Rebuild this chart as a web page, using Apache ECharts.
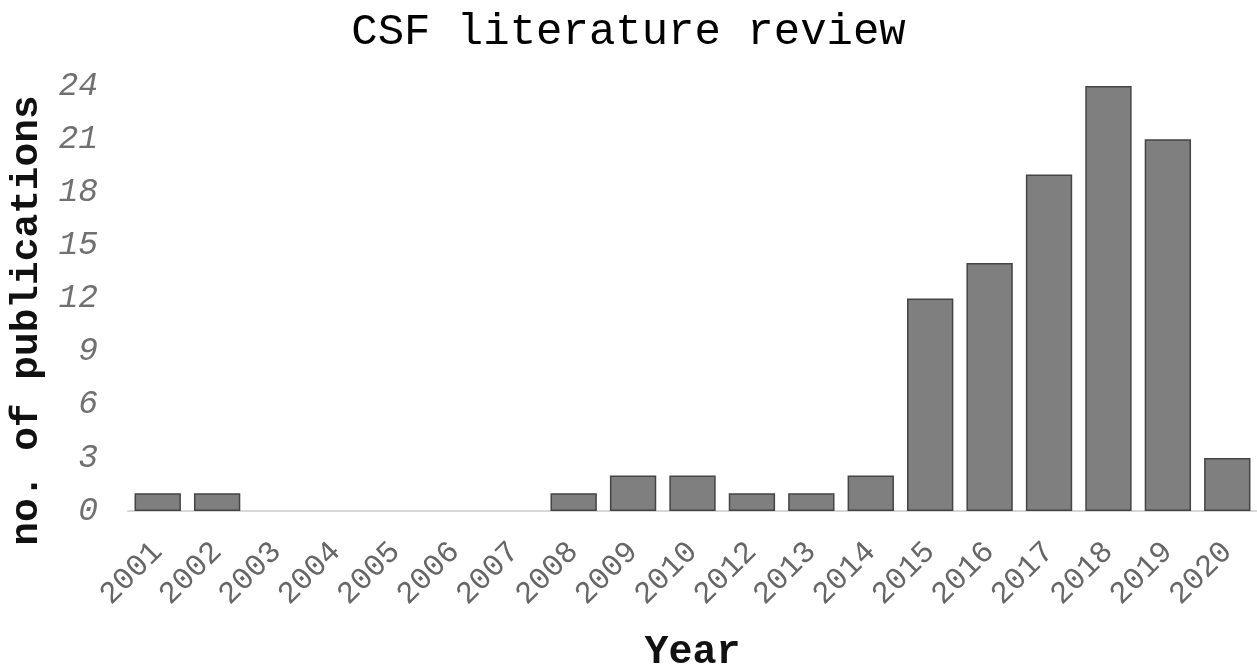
<!DOCTYPE html>
<html>
<head>
<meta charset="utf-8">
<script src="https://cdn.jsdelivr.net/npm/echarts@6/dist/echarts.min.js"></script>
<style>
html,body{margin:0;padding:0;background:#fff;}
#chart{width:1257px;height:669px;}
</style>
</head>
<body>
<div id="chart"></div>
<script>
const titleText = 'CSF literature review';
const years = ['2001','2002','2003','2004','2005','2006','2007','2008','2009','2010','2012','2013','2014','2015','2016','2017','2018','2019','2020'];
const publications = [1,1,0,0,0,0,0,1,2,2,1,1,2,12,14,19,24,21,3];
const xName = 'Year';
const yName = 'no. of publications';
const yMin = 0, yMax = 24, yStep = 3;

const mono = '"Liberation Mono", "Courier New", monospace';
const barData = publications.map(v => v === 0 ? {value: v, itemStyle: {borderWidth: 0}} : v);
const chart = echarts.init(document.getElementById('chart'), null, {renderer: 'canvas'});
chart.setOption({
  animation: false,
  backgroundColor: '#ffffff',
  title: {
    text: titleText,
    left: 'center',
    top: 5,
    textStyle: {fontFamily: mono, fontSize: 44, fontWeight: 'normal', color: '#000'}
  },
  grid: {left: 128, right: 0, top: 86, bottom: 158, containLabel: false, outerBoundsMode: 'none'},
  xAxis: {
    type: 'category',
    data: years,
    name: xName,
    nameLocation: 'middle',
    nameGap: 122,
    nameTextStyle: {fontFamily: mono, fontSize: 40, fontWeight: 'bold', color: '#111'},
    axisLine: {show: true, lineStyle: {color: '#d6d6d6', width: 2}},
    axisTick: {show: false},
    axisLabel: {rotate: 45, margin: 36, fontFamily: mono, fontSize: 31, color: '#666', interval: 0}
  },
  yAxis: {
    type: 'value',
    min: yMin, max: yMax, interval: yStep,
    name: yName,
    nameLocation: 'middle',
    nameGap: 76,
    nameTextStyle: {fontFamily: mono, fontSize: 39.5, fontWeight: 'bold', color: '#111', padding: [0, 44, 0, 0]},
    axisLine: {show: false},
    axisTick: {show: false},
    splitLine: {show: false},
    axisLabel: {margin: 30, fontFamily: mono, fontSize: 33, fontStyle: 'italic', color: '#707070'}
  },
  series: [{
    type: 'bar',
    data: barData,
    barWidth: '78%',
    itemStyle: {color: '#7f7f7f', borderColor: '#444', borderWidth: 1.5}
  }]
});
</script>
</body>
</html>
